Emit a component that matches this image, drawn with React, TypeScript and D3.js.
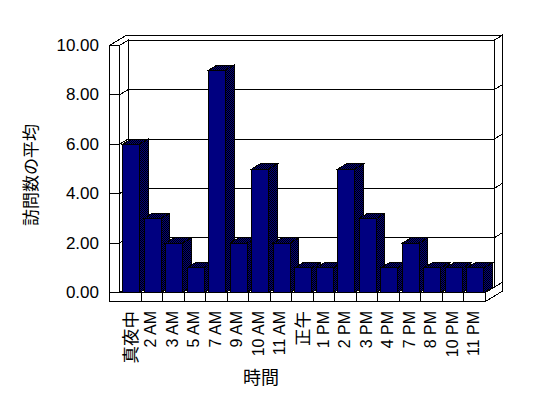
import React from 'react';
import * as d3 from 'd3';

const categories = ['真夜中', '2 AM', '3 AM', '5 AM', '7 AM', '9 AM', '10 AM', '11 AM', '正午', '1 PM', '2 PM', '3 PM', '4 PM', '7 PM', '8 PM', '10 PM', '11 PM'];
const visits = [6, 3, 2, 1, 9, 2, 5, 2, 1, 1, 5, 3, 1, 2, 1, 1, 1];
const yTicks = [0, 2, 4, 6, 8, 10];

const W = 548, H = 398;
const plot = { left: 119.5, right: 485.5, top: 45.5, bottom: 292.5 };
const wallW = 10, floorH = 9;
// oblique depth offset for the inside of the box, back wall is almost as thick
const dx = 8.5, dy = -5.2;
const tk = 0.95;

const latin = '"Liberation Sans", Arial, sans-serif';
const cjk = '"Noto Sans CJK JP", sans-serif';

export default function App() {
  const x = d3.scaleBand().domain(categories).range([plot.left, plot.right]);
  const y = d3.scaleLinear().domain([0, 10]).range([plot.bottom, plot.top]);
  const bw = x.bandwidth();

  const pt = (px: number, py: number, z: number) => [px + z * dx, py + z * dy];
  const poly = (pts: number[][]) => 'M' + pts.map(p => p.join(',')).join('L') + 'Z';
  const seg = (a: number[], b: number[]) => `M${a[0]},${a[1]}L${b[0]},${b[1]}`;

  const L0 = plot.left - wallW, L = plot.left, R = plot.right;
  const T = plot.top, B = plot.bottom, FB = plot.bottom + floorH;
  const line = { fill: 'none', stroke: '#000', strokeWidth: 1 };
  const face = { fill: '#fff', stroke: '#000', strokeWidth: 1 };
  const isLatin = (c: string) => /[A-Z0-9]/.test(c);

  return (
    <svg width={W} height={H} style={{ position: 'absolute', left: 0, top: 0, background: '#fff' }} shapeRendering="crispEdges">
      <defs>
        <pattern id="dither" width="2" height="2" patternUnits="userSpaceOnUse">
          <rect width="2" height="2" fill="#000080" />
          <rect width="1" height="1" fill="#000" />
          <rect x="1" y="1" width="1" height="1" fill="#000" />
        </pattern>
      </defs>

      {/* walls */}
      <path d={poly([pt(L0, T, 0), pt(L0, T, 1 + tk), pt(R, T, 1 + tk), pt(R, T, 1), pt(L, T, 1), pt(L, T, 0)])} {...face} />
      <path d={poly([pt(L, T, 1), pt(R, T, 1), pt(R, B, 1), pt(L, B, 1)])} {...face} />
      <path d={poly([pt(R, T, 1), pt(R, T, 1 + tk), pt(R, B, 1 + tk), pt(R, B, 1)])} {...face} />
      <path d={poly([pt(L, T, 0), pt(L, T, 1), pt(L, B, 1), pt(L, B, 0)])} {...face} />
      <rect x={L0} y={T} width={L - L0} height={B - T} {...face} />

      {yTicks.filter(v => v > 0 && v < 10).map(v => (
        <g key={v}>
          <path d={seg(pt(L, y(v), 1), pt(R, y(v), 1))} {...line} />
          <path d={seg(pt(L, y(v), 0), pt(L, y(v), 1))} {...line} />
          <path d={seg(pt(R, y(v), 1), pt(R, y(v), 1 + tk))} {...line} />
          <path d={seg([L0, y(v)], [L, y(v)])} {...line} />
        </g>
      ))}

      {/* floor */}
      <path d={poly([pt(L, B, 0), pt(R, B, 0), pt(R, B, 1), pt(L, B, 1)])} {...face} />
      <rect x={L0} y={B} width={R - L0} height={floorH} {...face} />
      <path d={poly([pt(R, B, 0), pt(R, B, 1 + tk), pt(R, FB, 1 + tk), pt(R, FB, 0)])} {...face} />
      {categories.slice(1).map(c => (
        <path key={c} d={seg([x(c)!, B], [x(c)!, FB])} {...line} />
      ))}

      {/* bars */}
      {categories.map((c, i) => {
        const x0 = x(c)! + bw * 0.14;
        const x1 = x0 + bw * 0.79;
        const yv = y(visits[i]);
        return (
          <g key={c}>
            <path d={poly([pt(x1, yv, 0), pt(x1, yv, 1), pt(x1, B, 1), pt(x1, B, 0)])} fill="url(#dither)" stroke="#000" strokeWidth={1} />
            <path d={poly([pt(x0, yv, 0), pt(x1, yv, 0), pt(x1, yv, 1), pt(x0, yv, 1)])} fill="url(#dither)" stroke="#000" strokeWidth={1} />
            <rect x={x0} y={yv} width={x1 - x0} height={B - yv} fill="#000080" stroke="#000" strokeWidth={1} />
          </g>
        );
      })}

      {/* y axis labels */}
      {yTicks.map(v => (
        <text key={v} x={99} y={y(v)} textAnchor="end" dominantBaseline="central" fontFamily={latin} fontSize={17}>
          {d3.format('.2f')(v)}
        </text>
      ))}
      <text transform="translate(29,175) rotate(-90)" textAnchor="middle" dominantBaseline="central" fontFamily={cjk} fontSize={17} fill="#000">
        訪問数の平均
      </text>

      {/* x axis labels */}
      {categories.map(c => (
        <text key={c} transform={`translate(${x(c)! + bw / 2 - 1},311) rotate(-90)`} textAnchor="end" dominantBaseline="central"
          fontFamily={isLatin(c) ? latin : cjk} fontSize={isLatin(c) ? 16 : 17.5} fill="#000">
          {c}
        </text>
      ))}
      <text x={261} y={376} textAnchor="middle" dominantBaseline="central" fontFamily={cjk} fontSize={18} fill="#000">
        時間
      </text>
    </svg>
  );
}
